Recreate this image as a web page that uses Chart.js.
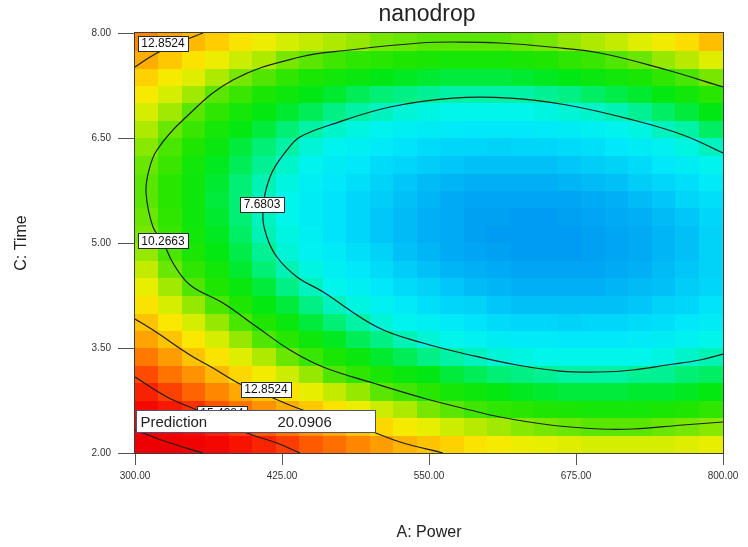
<!DOCTYPE html>
<html>
<head>
<meta charset="utf-8">
<script src="https://cdn.jsdelivr.net/npm/chart.js@4.4.0/dist/chart.umd.min.js"></script>
<style>
  html, body { margin: 0; padding: 0; background: #ffffff; }
  #wrap { width: 748px; height: 547px; }
</style>
</head>
<body>
<div id="wrap"><canvas id="c" width="748" height="547"></canvas></div>
<script>
// ---------------- DATA ----------------
const chartTitle = 'nanodrop';
const xTitle = 'A: Power';
const yTitle = 'C: Time';
const xTickValues = [300, 425, 550, 675, 800];
const yTickValues = [2.00, 3.50, 5.00, 6.50, 8.00];

// heat-map cell edges (A: Power, C: Time)
const powerEdges = [300,320,340,360,380,400,420,440,460,480,500,520,540,560,580,600,620,640,660,680,700,720,740,760,780,800];
const timeEdges = [2.00,2.25,2.50,2.75,3.00,3.25,3.50,3.75,4.00,4.25,4.50,4.75,5.00,5.25,5.50,5.75,6.00,6.25,6.50,6.75,7.00,7.25,7.50,7.75,8.00];

// estimated response (nanodrop) per row, from C = 2.125 (bottom) to 7.875 (top)
const t2_125 = [19.0,18.3,17.6,16.9,16.2,15.6,15.1,14.5,14.1,13.6,13.2,12.8,12.5,12.2,11.9,11.7,11.5,11.4,11.3,11.2,11.2,11.2,11.2,11.3,11.4];
const t2_375 = [17.8,17.1,16.4,15.7,15.1,14.5,13.9,13.4,13.0,12.5,12.1,11.7,11.4,11.1,10.9,10.7,10.5,10.4,10.3,10.2,10.2,10.2,10.3,10.4,10.5];
const t2_625 = [16.7,16.0,15.3,14.6,14.0,13.4,12.9,12.4,11.9,11.5,11.1,10.8,10.4,10.2,9.9,9.7,9.6,9.5,9.4,9.3,9.3,9.3,9.4,9.5,9.7];
const t2_875 = [15.7,15.0,14.3,13.6,13.0,12.5,11.9,11.4,11.0,10.6,10.2,9.9,9.6,9.3,9.1,8.9,8.7,8.6,8.5,8.5,8.5,8.6,8.6,8.7,8.9];
const t3_125 = [14.8,14.0,13.4,12.7,12.1,11.6,11.1,10.6,10.1,9.7,9.4,9.0,8.8,8.5,8.3,8.1,8.0,7.9,7.8,7.8,7.8,7.9,7.9,8.1,8.2];
const t3_375 = [13.9,13.2,12.5,11.9,11.3,10.8,10.3,9.8,9.4,9.0,8.6,8.3,8.0,7.8,7.6,7.4,7.3,7.2,7.2,7.2,7.2,7.2,7.3,7.5,7.7];
const t3_625 = [13.1,12.5,11.8,11.2,10.6,10.1,9.6,9.1,8.7,8.3,8.0,7.7,7.4,7.2,7.0,6.8,6.7,6.7,6.6,6.6,6.6,6.7,6.8,7.0,7.2];
const t3_875 = [12.5,11.8,11.2,10.6,10.0,9.5,9.0,8.5,8.1,7.8,7.4,7.1,6.9,6.7,6.5,6.3,6.2,6.2,6.1,6.2,6.2,6.3,6.4,6.6,6.8];
const t4_125 = [11.9,11.2,10.6,10.0,9.5,8.9,8.5,8.0,7.6,7.3,7.0,6.7,6.4,6.2,6.1,5.9,5.8,5.8,5.8,5.8,5.8,5.9,6.1,6.2,6.5];
const t4_375 = [11.4,10.7,10.1,9.5,9.0,8.5,8.0,7.6,7.2,6.9,6.6,6.3,6.1,5.9,5.7,5.6,5.5,5.5,5.5,5.5,5.6,5.7,5.8,6.0,6.2];
const t4_625 = [11.0,10.3,9.7,9.2,8.6,8.1,7.7,7.3,6.9,6.6,6.3,6.0,5.8,5.6,5.5,5.4,5.3,5.3,5.3,5.3,5.4,5.5,5.7,5.9,6.1];
const t4_875 = [10.6,10.0,9.4,8.9,8.4,7.9,7.4,7.0,6.7,6.4,6.1,5.8,5.6,5.4,5.3,5.2,5.1,5.1,5.1,5.2,5.3,5.4,5.6,5.8,6.1];
const t5_125 = [10.4,9.8,9.2,8.7,8.2,7.7,7.3,6.9,6.5,6.2,5.9,5.7,5.5,5.4,5.2,5.1,5.1,5.1,5.1,5.2,5.3,5.4,5.6,5.8,6.1];
const t5_375 = [10.3,9.7,9.1,8.6,8.1,7.6,7.2,6.8,6.5,6.2,5.9,5.7,5.5,5.4,5.2,5.2,5.1,5.1,5.2,5.3,5.4,5.5,5.7,5.9,6.2];
const t5_625 = [10.2,9.6,9.1,8.5,8.1,7.6,7.2,6.8,6.5,6.2,6.0,5.8,5.6,5.4,5.3,5.3,5.3,5.3,5.3,5.4,5.5,5.7,5.9,6.2,6.4];
const t5_875 = [10.2,9.6,9.1,8.6,8.1,7.7,7.3,6.9,6.6,6.4,6.1,5.9,5.7,5.6,5.5,5.5,5.5,5.5,5.6,5.7,5.8,6.0,6.2,6.4,6.7];
const t6_125 = [10.3,9.8,9.2,8.7,8.3,7.9,7.5,7.1,6.8,6.6,6.3,6.2,6.0,5.9,5.8,5.8,5.8,5.8,5.9,6.0,6.1,6.3,6.6,6.8,7.1];
const t6_375 = [10.5,10.0,9.5,9.0,8.5,8.1,7.8,7.4,7.1,6.9,6.7,6.5,6.3,6.2,6.2,6.1,6.2,6.2,6.3,6.4,6.6,6.8,7.0,7.3,7.6];
const t6_625 = [10.8,10.3,9.8,9.3,8.9,8.5,8.1,7.8,7.5,7.3,7.1,6.9,6.8,6.7,6.6,6.6,6.6,6.7,6.8,6.9,7.1,7.3,7.6,7.8,8.2];
const t6_875 = [11.2,10.7,10.2,9.7,9.3,8.9,8.6,8.3,8.0,7.8,7.6,7.4,7.3,7.2,7.2,7.2,7.2,7.3,7.4,7.5,7.7,7.9,8.2,8.5,8.8];
const t7_125 = [11.7,11.2,10.7,10.2,9.8,9.4,9.1,8.8,8.6,8.3,8.1,8.0,7.9,7.8,7.8,7.8,7.8,7.9,8.0,8.2,8.4,8.6,8.9,9.2,9.6];
const t7_375 = [12.2,11.7,11.3,10.8,10.4,10.1,9.7,9.4,9.2,9.0,8.8,8.7,8.6,8.5,8.5,8.5,8.6,8.7,8.8,9.0,9.2,9.4,9.7,10.0,10.4];
const t7_625 = [12.9,12.4,11.9,11.5,11.1,10.8,10.4,10.2,9.9,9.7,9.6,9.5,9.4,9.3,9.3,9.3,9.4,9.5,9.7,9.8,10.1,10.3,10.6,10.9,11.3];
const t7_875 = [13.6,13.1,12.7,12.3,11.9,11.5,11.2,11.0,10.8,10.6,10.4,10.3,10.2,10.2,10.2,10.2,10.3,10.4,10.6,10.8,11.0,11.3,11.6,12.0,12.6];
const responseRows = [t2_125,t2_375,t2_625,t2_875,t3_125,t3_375,t3_625,t3_875,t4_125,t4_375,t4_625,t4_875,
                      t5_125,t5_375,t5_625,t5_875,t6_125,t6_375,t6_625,t6_875,t7_125,t7_375,t7_625,t7_875];

// contour lines: [A: Power, C: Time]
const contour_7_6803 = [[800,6.286],[766,6.543],[723.5,6.757],[667.3,6.971],[618.9,7.071],[570.4,7.071],[516.8,6.943],[465.8,6.686],[440.3,6.514],[429.3,6.329],[414.8,5.943],[408.8,5.429],[412.2,5.086],[420.7,4.8],[437.8,4.514],[459,4.31],[505.8,3.8],[544.9,3.571],[584.9,3.4],[624.8,3.257],[661.4,3.171],[695.4,3.157],[723.5,3.186],[752.4,3.257],[780.4,3.329],[800,3.414]];
const contour_10_2663 = [[800,7.229],[752.4,7.471],[695.4,7.714],[652.9,7.8],[610.4,7.857],[576.4,7.871],[542.3,7.857],[482.8,7.757],[440.3,7.657],[383.3,7.329],[340.8,6.757],[318.7,6.329],[311.9,6.043],[309.4,5.714],[315.3,5.229],[323.8,5.014],[332.3,4.714],[346.8,4.4],[374.8,4.143],[403.7,3.8],[431.8,3.471],[459.9,3.229],[502.4,3.0],[544.9,2.786],[584.9,2.614],[610.4,2.514],[652.9,2.4],[695.4,2.343],[723.5,2.343],[766,2.4],[800,2.443]];
const contour_12_8524_top = [[300,7.514],[312.8,7.657],[323.8,7.757],[340,7.88],[357.8,8.0]];
const contour_12_8524_low = [[300,3.914],[315.3,3.757],[346.8,3.4],[366.3,3.214],[389.3,2.986],[411.4,2.829],[440.3,2.629],[468.4,2.486],[502.4,2.3],[525.3,2.157],[561.9,2.0]];
const contour_15_4384 = [[300,3.086],[327.2,2.8],[352.7,2.614],[395.2,2.286],[420.7,2.143],[440.3,2.0]];
const contour_18_0245 = [[300,2.329],[327.2,2.157],[357.8,2.0]];

// contour label texts and where they sit on their lines
const contourLabelTexts = ['12.8524', '7.6803', '10.2663', '12.8524', '15.4384'];
const contourLabelPower = [323.8, 408.0, 323.8, 411.4, 374.0];
const contourLabelTime  = [7.857, 5.557, 5.029, 2.914, 2.571];

const predictionLabel = 'Prediction';
const predictionValue = '20.0906';
const predictionAt = [300, 2.614];

// ---------------- STYLE ----------------
const FONT = '"Liberation Sans", Arial, Helvetica, sans-serif';
Chart.defaults.font.family = FONT;

const colorStops = [
  [5.0,[0,150,242]],[5.5,[0,175,245]],[6.0,[0,205,248]],[6.6,[0,232,250]],[7.2,[0,245,235]],
  [7.7,[0,243,180]],[8.2,[0,238,100]],[8.8,[0,232,20]],[9.5,[30,230,0]],[10.2,[90,230,0]],
  [10.6,[150,232,0]],[11.0,[195,235,0]],[11.4,[232,238,0]],[11.8,[250,232,0]],[12.3,[255,205,0]],
  [12.8,[255,180,0]],[13.5,[255,140,0]],[14.5,[255,90,0]],[15.5,[250,40,0]],[16.5,[245,10,0]],[18,[238,0,0]],[21,[235,0,0]]
];
function colorFor(v) {
  if (v <= colorStops[0][0]) return 'rgb(' + colorStops[0][1].join(',') + ')';
  for (let k = 1; k < colorStops.length; k++) {
    if (v <= colorStops[k][0]) {
      const [v0, c0] = colorStops[k-1], [v1, c1] = colorStops[k];
      const t = (v - v0) / (v1 - v0);
      const c = c0.map((a, i) => Math.round(a + (c1[i] - a) * t));
      return 'rgb(' + c.join(',') + ')';
    }
  }
  return 'rgb(' + colorStops[colorStops.length-1][1].join(',') + ')';
}

const heatmapPlugin = {
  id: 'heatmap',
  beforeDatasetsDraw(chart) {
    const { ctx, scales: { x, y }, chartArea: ca } = chart;
    ctx.save();
    ctx.beginPath();
    ctx.rect(ca.left, ca.top, ca.right - ca.left, ca.bottom - ca.top);
    ctx.clip();
    for (let i = 0; i < responseRows.length; i++) {
      const yTop = y.getPixelForValue(timeEdges[i + 1]);
      const yBot = y.getPixelForValue(timeEdges[i]);
      const row = responseRows[i];
      for (let j = 0; j < row.length; j++) {
        const xl = x.getPixelForValue(powerEdges[j]);
        const xr = x.getPixelForValue(powerEdges[j + 1]);
        ctx.fillStyle = colorFor(row[j]);
        ctx.fillRect(Math.floor(xl), Math.floor(yTop), Math.ceil(xr) - Math.floor(xl), Math.ceil(yBot) - Math.floor(yTop));
      }
    }
    ctx.restore();
  }
};

const overlayPlugin = {
  id: 'overlay',
  afterDatasetsDraw(chart) {
    const { ctx, scales: { x, y }, chartArea: ca } = chart;
    ctx.save();
    // contour labels
    ctx.font = '12px ' + FONT;
    ctx.textAlign = 'center';
    ctx.textBaseline = 'middle';
    for (let k = 0; k < contourLabelTexts.length; k++) {
      const px = x.getPixelForValue(contourLabelPower[k]);
      const py = y.getPixelForValue(contourLabelTime[k]);
      const w = Math.round(ctx.measureText(contourLabelTexts[k]).width + 7);
      const h = 15;
      const bx = Math.round(px - w / 2) + 0.5, by = Math.round(py - h / 2) + 0.5;
      ctx.fillStyle = '#ffffff';
      ctx.fillRect(bx, by, w, h);
      ctx.strokeStyle = '#2a2a2a';
      ctx.lineWidth = 1;
      ctx.strokeRect(bx, by, w, h);
      ctx.fillStyle = '#111111';
      ctx.fillText(contourLabelTexts[k], px, py + 0.5);
    }
    // prediction flag box
    const pl = Math.round(x.getPixelForValue(predictionAt[0])) + 1.5;
    const pt = Math.round(y.getPixelForValue(predictionAt[1])) + 0.5;
    const pw = 239, ph = 22;
    ctx.fillStyle = '#ffffff';
    ctx.fillRect(pl, pt, pw, ph);
    ctx.strokeStyle = '#50507a';
    ctx.strokeRect(pl, pt, pw, ph);
    ctx.fillStyle = '#222222';
    ctx.font = '15px ' + FONT;
    ctx.textAlign = 'left';
    ctx.fillText(predictionLabel, pl + 4, pt + ph / 2 + 1);
    ctx.fillText(predictionValue, pl + 141, pt + ph / 2 + 1);
    // frame
    ctx.strokeStyle = '#3c3c3c';
    ctx.lineWidth = 1;
    ctx.strokeRect(Math.round(ca.left) - 0.5, Math.round(ca.top) - 0.5, Math.round(ca.right - ca.left) + 1, Math.round(ca.bottom - ca.top) + 1);
    ctx.restore();
  },
  afterDraw(chart) {
    const { ctx, chartArea: ca } = chart;
    ctx.save();
    ctx.fillStyle = '#222222';
    ctx.font = '23px ' + FONT;
    ctx.textAlign = 'center';
    ctx.textBaseline = 'middle';
    ctx.fillText(chartTitle, (ca.left + ca.right) / 2 - 2, 15);
    ctx.restore();
  }
};

function lineSet(label, pts) {
  return {
    label: label,
    data: pts.map(p => ({ x: p[0], y: p[1] })),
    showLine: true,
    borderColor: '#1e1e1e',
    borderWidth: 1.2,
    pointRadius: 0,
    pointHoverRadius: 0,
    tension: 0.4,
    fill: false
  };
}

new Chart(document.getElementById('c').getContext('2d'), {
  type: 'scatter',
  data: {
    datasets: [
      lineSet('7.6803', contour_7_6803),
      lineSet('10.2663', contour_10_2663),
      lineSet('12.8524', contour_12_8524_top),
      lineSet('12.8524', contour_12_8524_low),
      lineSet('15.4384', contour_15_4384),
      lineSet('18.0245', contour_18_0245)
    ]
  },
  options: {
    responsive: false,
    animation: false,
    events: [],
    layout: { padding: { left: 0, right: 25, top: 33, bottom: 0 } },
    plugins: { legend: { display: false }, tooltip: { enabled: false }, title: { display: false } },
    scales: {
      x: {
        type: 'linear', min: 300, max: 800,
        afterBuildTicks: s => { s.ticks = xTickValues.map(v => ({ value: v })); },
        afterFit: s => { s.height = 94; },
        ticks: { autoSkip: false, maxRotation: 0, padding: 5, color: '#333333',
                 font: { size: 10 }, callback: v => Number(v).toFixed(2) },
        grid: { display: true, drawOnChartArea: false, drawTicks: true, tickLength: 12, color: '#555555' },
        border: { display: false },
        title: { display: true, text: xTitle, color: '#222222', font: { size: 16 }, padding: { top: 0, bottom: 5 } }
      },
      y: {
        type: 'linear', min: 2, max: 8,
        afterBuildTicks: s => { s.ticks = yTickValues.map(v => ({ value: v })); },
        afterFit: s => { s.width = 135; },
        ticks: { autoSkip: false, padding: 7, color: '#333333',
                 font: { size: 10 }, callback: v => Number(v).toFixed(2) },
        grid: { display: true, drawOnChartArea: false, drawTicks: true, tickLength: 17, color: '#555555' },
        border: { display: false },
        title: { display: true, text: yTitle, color: '#222222', font: { size: 16 }, padding: { top: 12, bottom: 0 } }
      }
    }
  },
  plugins: [heatmapPlugin, overlayPlugin]
});
</script>
</body>
</html>
